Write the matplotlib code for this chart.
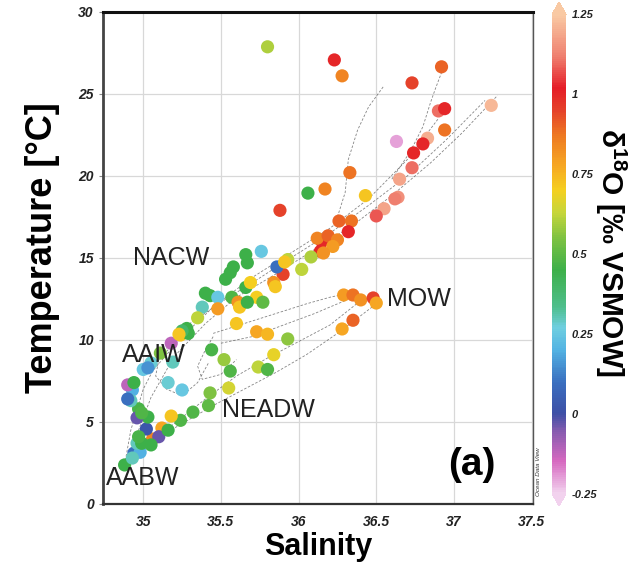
import matplotlib
matplotlib.use("Agg")
import matplotlib.pyplot as plt
from matplotlib.colors import LinearSegmentedColormap, Normalize
from matplotlib.cm import ScalarMappable

plt.rcParams['font.family'] = ['Liberation Sans', 'DejaVu Sans']
plt.rcParams['mathtext.fontset'] = 'custom'
plt.rcParams['mathtext.rm'] = 'Liberation Sans'
plt.rcParams['mathtext.bf'] = 'Liberation Sans:bold'

# Bottle samples: salinity, potential temperature, d18O
salinity = [
    35.80, 36.23, 36.28, 36.92, 36.73, 37.24, 36.90, 36.94, 36.94, 36.83,
    36.63, 36.80, 36.74, 36.73, 36.65, 36.64, 36.62, 36.33, 36.17, 36.06,
    36.43, 36.55, 36.50, 36.26, 36.34, 36.32, 35.88, 36.15, 36.12, 36.19,
    36.25, 36.22, 36.14, 36.16, 36.08, 35.93, 36.02, 35.90,
    36.29, 36.35, 36.40, 36.48, 36.50, 36.35, 36.28, 35.93,
    35.60, 35.73, 35.80, 35.84, 35.44, 35.52, 35.56, 35.74, 35.80, 35.55,
    35.43, 35.42, 35.32, 35.24, 35.18, 35.12, 35.06, 35.10, 35.16, 35.02,
    34.97, 35.03, 34.96, 34.99, 34.93, 34.92, 34.90, 34.90, 35.00, 35.05,
    35.03, 35.16, 35.25, 34.94, 34.94, 34.98, 34.96, 34.88, 34.93, 34.99,
    35.05, 34.97,
    35.18, 35.24, 35.29, 35.11, 35.19,
    35.76, 35.66, 35.67, 35.58, 35.56, 35.53, 35.86, 35.91, 35.84, 35.85,
    35.66, 35.69, 35.40, 35.43, 35.48, 35.57, 35.61, 35.62, 35.73, 35.77,
    35.67, 35.38, 35.48, 35.35, 35.28, 35.25, 35.23,
]
temperature = [
    27.87, 27.07, 26.10, 26.65, 25.67, 24.30, 23.96, 24.10, 22.80, 22.30,
    22.10, 21.95, 21.40, 20.50, 19.80, 18.70, 18.60, 20.20, 19.20, 18.95,
    18.80, 18.00, 17.56, 17.25, 17.25, 16.60, 17.90, 16.00, 16.20, 16.35,
    16.10, 15.70, 15.40, 15.30, 15.06, 14.90, 14.30, 14.00,
    12.74, 12.74, 12.44, 12.56, 12.25, 11.20, 10.67, 10.06,
    11.00, 10.50, 10.35, 9.10, 9.40, 8.80, 8.10, 8.35, 8.20, 7.07,
    6.77, 6.00, 5.60, 5.10, 5.36, 4.63, 3.96, 4.10, 4.50, 4.57,
    5.80, 5.30, 5.25, 5.55, 6.95, 6.30, 6.40, 7.26, 8.20, 8.60,
    8.30, 7.40, 6.95, 7.40, 3.10, 3.15, 3.70, 2.38, 2.80, 3.70,
    3.60, 4.10,
    9.80, 10.30, 10.40, 9.20, 8.65,
    15.40, 15.20, 14.70, 14.45, 14.10, 13.70, 14.45, 14.75, 13.50, 13.25,
    13.20, 13.50, 12.85, 12.70, 12.60, 12.60, 12.30, 12.00, 12.60, 12.30,
    12.30, 12.00, 11.90, 11.35, 10.70, 10.55, 10.35,
]
d18o = [
    0.60, 1.00, 0.85, 0.90, 0.95, 1.22, 1.10, 1.00, 0.88, 1.20,
    -0.20, 1.00, 1.00, 1.10, 1.18, 1.15, 1.12, 0.88, 0.85, 0.45,
    0.72, 1.18, 1.08, 0.90, 0.88, 1.00, 0.95, 1.00, 0.85, 0.90,
    0.85, 0.80, 1.00, 0.82, 0.60, 0.62, 0.62, 0.95,
    0.80, 0.88, 0.82, 0.95, 0.78, 0.90, 0.78, 0.57,
    0.72, 0.78, 0.75, 0.68, 0.47, 0.58, 0.48, 0.62, 0.48, 0.65,
    0.55, 0.50, 0.48, 0.48, 0.72, 0.78, 0.85, -0.03, 0.45, 0.02,
    0.47, 0.45, -0.03, 0.48, 0.20, 0.30, 0.10, -0.12, 0.25, 0.28,
    0.15, 0.28, 0.25, 0.45, 0.10, 0.20, 0.30, 0.45, 0.30, 0.45,
    0.45, 0.47,
    -0.12, 0.72, 0.45, 0.55, 0.30,
    0.25, 0.45, 0.45, 0.45, 0.45, 0.45, 0.10, 0.72, 0.82, 0.72,
    0.45, 0.70, 0.45, 0.45, 0.25, 0.48, 0.82, 0.72, 0.70, 0.50,
    0.45, 0.30, 0.80, 0.62, 0.45, 0.40, 0.72,
]

# CTD profile traces (salinity, temperature)
trunk1_s = [34.88, 34.92, 35.00, 35.12, 35.30, 35.50, 35.72, 35.95, 36.20, 36.45, 36.70, 36.95, 37.20]
trunk1_t = [2.4, 4.5, 7.0, 9.2, 11.0, 12.3, 13.6, 15.0, 16.5, 18.2, 20.0, 22.2, 24.6]
trunk2_s = [34.95, 35.05, 35.20, 35.40, 35.60, 35.85, 36.10, 36.35, 36.60, 36.85, 37.05, 37.28]
trunk2_t = [4.0, 6.5, 9.0, 11.0, 12.6, 14.0, 15.5, 17.0, 18.8, 20.8, 22.6, 24.9]
trunk3_s = [35.05, 35.25, 35.45, 35.70, 35.95, 36.20, 36.45, 36.70, 36.90]
trunk3_t = [8.0, 10.2, 12.0, 13.8, 15.3, 16.8, 18.6, 21.0, 23.5]
neadw1_s = [34.90, 35.05, 35.25, 35.45, 35.65, 35.85, 36.05, 36.25, 36.50]
neadw1_t = [2.6, 3.8, 4.9, 6.0, 7.0, 8.0, 9.1, 10.4, 12.2]
neadw2_s = [35.00, 35.20, 35.40, 35.60, 35.80, 36.00, 36.20, 36.40]
neadw2_t = [3.6, 4.9, 6.4, 7.8, 8.9, 9.9, 10.9, 12.4]
mow1_s = [35.45, 35.65, 35.85, 36.05, 36.20, 36.35]
mow1_t = [10.4, 11.0, 11.6, 12.2, 12.6, 12.9]
mow2_s = [35.50, 35.70, 35.90, 36.10, 36.30]
mow2_t = [9.8, 10.2, 10.9, 11.6, 12.4]
aaiw_s = [35.30, 35.20, 35.10, 35.08, 35.15, 35.25, 35.35, 35.42]
aaiw_t = [10.6, 9.8, 8.8, 7.8, 7.0, 6.6, 7.4, 8.6]
loop_s = [35.45, 35.40, 35.35, 35.38, 35.50, 35.60]
loop_t = [10.2, 9.4, 8.4, 7.6, 7.9, 8.8]
upper1_s = [36.25, 36.30, 36.32, 36.38, 36.45, 36.55]
upper1_t = [17.5, 19.0, 21.0, 22.8, 24.2, 25.5]
upper2_s = [36.60, 36.72, 36.80, 36.85, 36.88, 36.92]
upper2_t = [19.8, 21.5, 23.0, 24.5, 25.3, 26.3]

cbar_ticks = [-0.25, 0, 0.25, 0.5, 0.75, 1, 1.25]
cbar_labels = ['-0.25', '0', '0.25', '0.5', '0.75', '1', '1.25']

# ODV-like rainbow
stops = [
    (-0.25, '#f2d2ee'), (-0.15, '#d669c0'), (-0.06, '#8a5cb0'), (0.0, '#3d4fa6'),
    (0.10, '#3a70c0'), (0.20, '#53b3e3'), (0.27, '#6fcfe0'), (0.33, '#4fbf8f'),
    (0.45, '#3db049'), (0.55, '#7ec242'), (0.63, '#c6d63a'), (0.70, '#f5d020'),
    (0.78, '#f6a623'), (0.87, '#ee7a22'), (0.95, '#e5422a'), (1.02, '#e51d27'),
    (1.12, '#ef7f6f'), (1.25, '#f9c9a3'),
]
vmin, vmax = -0.25, 1.25
cmap = LinearSegmentedColormap.from_list(
    'odv', [((v - vmin) / (vmax - vmin), c) for v, c in stops])
norm = Normalize(vmin=vmin, vmax=vmax)

fig = plt.figure(figsize=(6.31, 5.65), dpi=100)
ax = fig.add_axes([0.163, 0.108, 0.682, 0.871])

for ts, tt in [(trunk1_s, trunk1_t), (trunk2_s, trunk2_t), (trunk3_s, trunk3_t),
               (neadw1_s, neadw1_t), (neadw2_s, neadw2_t), (mow1_s, mow1_t),
               (mow2_s, mow2_t), (aaiw_s, aaiw_t), (loop_s, loop_t),
               (upper1_s, upper1_t), (upper2_s, upper2_t)]:
    ax.plot(ts, tt, color='#444444', linewidth=0.6, linestyle=(0, (3, 2)),
            alpha=0.65, zorder=2)

ax.scatter(salinity, temperature, c=d18o, cmap=cmap, norm=norm,
           s=90, linewidths=0, zorder=3)

ax.set_xlim(34.74, 37.51)
ax.set_ylim(0, 30)
ax.set_xticks([35, 35.5, 36, 36.5, 37, 37.5])
ax.set_xticklabels(['35', '35.5', '36', '36.5', '37', '37.5'])
ax.set_yticks([0, 5, 10, 15, 20, 25, 30])
ax.grid(True, color='#d8d8d8', linewidth=0.9)
ax.set_axisbelow(True)
ax.tick_params(axis='both', length=3, color='#888888', labelsize=10,
               labelcolor='#222222')
ax.tick_params(axis='x', length=0, pad=8)
for lab in ax.get_xticklabels() + ax.get_yticklabels():
    lab.set_fontweight('bold')
    lab.set_fontstyle('italic')

ax.spines['top'].set_linewidth(2.2)
ax.spines['top'].set_color('#111111')
ax.spines['left'].set_linewidth(2.0)
ax.spines['left'].set_color('#444444')
ax.spines['bottom'].set_linewidth(1.6)
ax.spines['bottom'].set_color('#333333')
ax.spines['right'].set_linewidth(1.0)
ax.spines['right'].set_color('#555555')

ax.set_xlabel('Salinity', fontsize=22, fontweight='bold', labelpad=2)
ax.set_ylabel('Temperature [°C]', fontsize=26, fontweight='bold')
ax.yaxis.set_label_coords(-0.10, 0.52)

# Water mass labels
for label, xs, yt in [('NACW', 34.935, 15.0), ('AAIW', 34.865, 9.1),
                      ('NEADW', 35.51, 5.73), ('AABW', 34.76, 1.6),
                      ('MOW', 36.57, 12.5)]:
    ax.text(xs, yt, label, fontsize=18, color='#222222', ha='left', va='center',
            zorder=4)
ax.text(36.96, 2.4, '(a)', fontsize=28, fontweight='bold', ha='left',
        va='center', zorder=4)

fig.text(0.853, 0.165, 'Ocean Data View', rotation=90, fontsize=4.5,
         fontstyle='italic', color='#333333', ha='center', va='center')

# Colorbar
cax = fig.add_axes([0.875, 0.1044, 0.022, 0.892])
cb = fig.colorbar(ScalarMappable(norm=norm, cmap=cmap), cax=cax,
                  extend='both', extendfrac=0.025, ticks=cbar_ticks)
cb.outline.set_visible(False)
cb.ax.set_yticklabels(cbar_labels)
cb.ax.tick_params(length=0, labelsize=8, labelcolor='#222222', pad=4)
for lab in cb.ax.get_yticklabels():
    lab.set_fontweight('bold')
    lab.set_fontstyle('italic')
fig.text(611 / 631, 1 - 252 / 565, r'δ$^{\mathbf{18}}$O [‰ VSMOW]',
         fontsize=21.5, fontweight='bold', rotation=270, ha='center', va='center')

fig.savefig('out.png', dpi=100)
